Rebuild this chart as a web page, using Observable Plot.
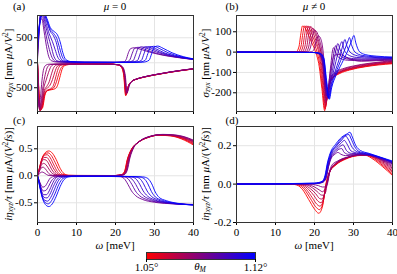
<!DOCTYPE html>
<html><head><meta charset="utf-8">
<script src="https://cdn.jsdelivr.net/npm/d3@7"></script>
<script src="https://cdn.jsdelivr.net/npm/@observablehq/plot@0.6"></script>
<style>
html,body{margin:0;padding:0;background:#fff;}
#root{position:relative;width:397px;height:274px;overflow:hidden;}
#root svg{position:absolute;overflow:visible;}
#root svg, #root svg text, #root svg tspan{font-family:"Liberation Serif",serif !important;}
</style></head><body><div id="root"></div>
<script>
// ---- data ----
const thetas = [1.05, 1.055, 1.06, 1.065, 1.07, 1.075, 1.08, 1.085, 1.09, 1.095, 1.10, 1.105, 1.11, 1.115, 1.12];
const omegaTicks = [0, 10, 20, 30, 40];
const ticksA = [-500, 0, 500];
const ticksB = [-200, -100, 0, 100];
const ticksC = [-0.5, 0, 0.5];
const ticksD = [-0.2, 0, 0.2];
const cbarTicks = [1.05, 1.12];

// (a) sigma_zyx, mu = 0   — one curve per theta, points [omega (meV), value]
const sigmaMu0 = [
  [[0,0],[0.3,-450],[0.8,-930],[1.3,-900],[1.9,-650],[2.5,-560],[3.5,-540],[4.5,-520],[5.1,-460],[5.7,-300],[6.3,-130],[7,-55],[8,-35],[12,-22],[18,-25],[20.5,-40],[21.5,-90],[22.1,-250],[22.6,-660],[23.2,-480],[24,-380],[25,-340],[27,-295],[30,-245],[34,-190],[37,-155],[40,-125]],
  [[0,0],[0.28,-480],[0.75,-950],[1.25,-885],[1.85,-635],[2.5,-555],[3.45,-530],[4.3,-485],[4.9,-370],[5.5,-210],[6.15,-90],[7.2,-40],[12,-22],[18,-25],[20.55,-40],[21.55,-90],[22.15,-250],[22.65,-650],[23.25,-475],[24.05,-378],[25.05,-337],[27,-293],[30,-244],[34,-189],[37,-154],[40,-124]],
  [[0,0],[0.25,-500],[0.7,-960],[1.2,-870],[1.8,-620],[2.5,-550],[3.4,-520],[4.1,-450],[4.7,-280],[5.3,-120],[6,-50],[7.5,-30],[12,-22],[18,-25],[20.6,-40],[21.6,-90],[22.2,-250],[22.7,-640],[23.3,-470],[24.1,-375],[25.1,-335],[27,-292],[30,-243],[34,-188],[37,-153],[40,-123]],
  [[0,0],[0.22,-510],[0.65,-955],[1.15,-845],[1.75,-590],[2.45,-510],[3.2,-450],[3.85,-335],[4.45,-185],[5.1,-70],[6.5,-35],[12,-22],[18,-25],[20.65,-40],[21.65,-90],[22.25,-250],[22.75,-630],[23.35,-465],[24.15,-372],[25.15,-332],[27,-291],[30,-242],[34,-187],[37,-152],[40,-122]],
  [[0,0],[0.2,-520],[0.6,-950],[1.1,-820],[1.7,-560],[2.4,-470],[3,-380],[3.6,-220],[4.2,-90],[5,-40],[7,-27],[12,-22],[18,-25],[20.7,-40],[21.7,-90],[22.3,-250],[22.8,-620],[23.4,-460],[24.2,-370],[25.2,-330],[27,-290],[30,-241],[34,-186],[37,-151],[40,-121]],
  [[0,0],[0.2,-535],[0.55,-935],[1,-800],[1.55,-520],[2.2,-350],[2.8,-200],[3.5,-70],[4.3,-32],[6.5,-26],[12,-22],[18,-25],[20.75,-40],[21.75,-90],[22.35,-250],[22.85,-610],[23.45,-455],[24.25,-367],[25.25,-329],[27,-289],[30,-240],[34,-185],[37,-150],[40,-120]],
  [[0,0],[0.2,-550],[0.5,-920],[0.9,-780],[1.4,-480],[2,-230],[2.6,-80],[3.4,-35],[6,-25],[12,-22],[18,-25],[20.8,-40],[21.8,-90],[22.4,-250],[22.9,-600],[23.5,-450],[24.3,-365],[25.3,-328],[27,-288],[30,-239],[34,-184],[37,-149],[40,-119]],
  [[0,0],[0.15,-500],[0.4,-880],[0.75,-700],[1.15,-350],[1.6,-120],[2.2,-45],[3,-28],[6,-24],[12,-22],[18,-25],[20.9,-40],[21.9,-90],[22.5,-250],[23,-590],[23.6,-445],[24.4,-362],[25.4,-326],[27,-287],[30,-238],[34,-183],[37,-148],[40,-118]],
  [[0,60],[0.3,450],[0.7,850],[1.1,880],[1.7,620],[2.3,330],[2.9,120],[3.6,40],[5,15],[10,8],[20,8],[22,15],[22.7,60],[23.3,200],[23.9,285],[24.8,300],[26,280],[28,230],[31,170],[35,115],[40,65]],
  [[0,120],[0.3,500],[0.75,910],[1.2,930],[1.85,690],[2.55,420],[3.2,220],[3.9,80],[4.8,25],[8,12],[20,8],[22.5,12],[23.6,50],[24.3,190],[24.9,290],[25.8,310],[27,285],[29,225],[32,160],[36,110],[40,67]],
  [[0,180],[0.3,550],[0.8,960],[1.3,980],[2,760],[2.8,520],[3.5,330],[4.2,130],[5,40],[6.5,15],[12,8],[20,8],[23,12],[24.5,40],[25.2,170],[25.8,290],[26.7,320],[28,290],[30.5,215],[34,140],[40,70]],
  [[0,250],[0.35,620],[0.85,985],[1.4,995],[2.15,800],[3,580],[3.8,430],[4.5,270],[5.2,110],[6,40],[7.5,15],[12,9],[20,8],[24,12],[25.6,42],[26.3,175],[26.9,295],[27.8,322],[29.2,288],[31.5,208],[35,132],[40,71]],
  [[0,320],[0.4,700],[0.9,1000],[1.5,1010],[2.3,840],[3.2,640],[4.1,540],[4.8,410],[5.5,190],[6.2,60],[7.5,20],[12,10],[20,8],[25,12],[26.6,45],[27.3,180],[27.9,300],[28.8,325],[30.2,285],[32.5,200],[36,125],[40,72]],
  [[0,400],[0.45,715],[0.95,960],[1.6,1005],[2.35,865],[3.25,670],[4.15,585],[4.95,485],[5.65,300],[6.35,120],[7.2,40],[9,18],[12,10],[20,8],[26,12],[27.6,48],[28.3,185],[28.9,305],[29.8,330],[31.2,288],[33.5,200],[36.8,122],[40,75]],
  [[0,480],[0.5,730],[1,920],[1.7,1000],[2.4,890],[3.3,700],[4.2,630],[5.1,560],[5.8,420],[6.5,200],[7.2,70],[8.5,25],[12,10],[20,8],[27,12],[28.6,50],[29.3,190],[29.9,310],[30.8,335],[32.2,290],[34.5,200],[37.5,120],[40,78]]
];

// (b) sigma_zyx, mu != 0
const sigmaMuN = [
  [[0,0],[14,0],[15.3,2],[16,25],[16.5,90],[16.9,128],[17.4,124],[18.2,95],[19.2,50],[20.2,5],[21.2,-70],[21.9,-180],[22.6,-288],[23.1,-230],[23.7,-165],[24.6,-130],[26.5,-105],[29,-88],[33,-72],[36.5,-63],[40,-57]],
  [[0,0],[14.5,0],[15.8,2],[16.5,25],[17,90],[17.4,128],[17.9,124],[18.7,95],[19.65,50],[20.6,5],[21.5,-80],[22.1,-185],[22.7,-280],[23.2,-222],[23.8,-160],[24.7,-126],[26.6,-101],[29.1,-85],[33.1,-70],[36.6,-60],[40,-55]],
  [[0,0],[15,0],[16.3,2],[17,25],[17.5,90],[17.9,128],[18.4,124],[19.2,95],[20.1,50],[21,5],[21.8,-90],[22.3,-190],[22.8,-270],[23.3,-215],[23.9,-155],[24.8,-122],[26.7,-98],[29.2,-82],[33.2,-67],[36.7,-58],[40,-52]],
  [[0,0],[15.5,0],[16.8,2],[17.5,25],[18,90],[18.4,127],[18.9,122],[19.7,92],[20.55,45],[21.4,-8],[22.1,-110],[22.6,-220],[22.85,-262],[23.35,-210],[23.95,-150],[24.9,-118],[26.85,-95],[29.35,-80],[33.35,-65],[36.85,-56],[40,-50]],
  [[0,0],[16,0],[17.3,2],[18,25],[18.5,90],[18.9,125],[19.4,120],[20.2,88],[21,40],[21.8,-20],[22.4,-130],[22.9,-250],[23.4,-205],[24,-145],[25,-115],[27,-92],[29.5,-77],[33.5,-62],[37,-53],[40,-47]],
  [[0,0],[16.5,0],[17.8,2],[18.5,25],[19,85],[19.45,116],[19.95,111],[20.7,76],[21.45,22],[22.15,-60],[22.7,-180],[22.95,-243],[23.45,-200],[24.05,-138],[25.1,-108],[27.1,-87],[29.75,-72],[33.75,-58],[37.25,-50],[40,-45]],
  [[0,0],[17,0],[18.3,2],[19,25],[19.5,80],[20,108],[20.5,102],[21.2,65],[21.9,5],[22.5,-110],[23,-235],[23.5,-195],[24.1,-130],[25.2,-100],[27.2,-82],[30,-68],[34,-55],[37.5,-47],[40,-42]],
  [[0,0],[18,0],[19.3,2],[20,20],[20.5,60],[21,80],[21.5,70],[22.1,20],[22.6,-80],[23.05,-215],[23.4,-200],[23.9,-120],[24.5,-50],[25.2,-15],[26.5,-12],[28.5,-30],[32,-45],[36,-42],[40,-40]],
  [[0,0],[20,-2],[21.2,-10],[22.1,-60],[22.7,-170],[23.2,-215],[23.7,-150],[24.2,-60],[24.6,5],[24.9,22],[25.3,5],[26.3,-28],[28.5,-40],[32,-42],[36,-40],[40,-38]],
  [[0,0],[20,-2],[21.25,-10],[22.15,-52],[22.8,-165],[23.3,-218],[23.85,-150],[24.5,-65],[25.05,8],[25.45,32],[25.9,10],[27,-24],[29.3,-36],[33,-38],[40,-35]],
  [[0,0],[20,-2],[21.3,-10],[22.2,-45],[22.9,-160],[23.4,-222],[24,-150],[24.8,-70],[25.5,10],[26,42],[26.5,15],[27.6,-20],[30,-32],[34,-34],[40,-33]],
  [[0,0],[20,-2],[21.35,-9],[22.25,-40],[22.95,-155],[23.5,-224],[24.1,-158],[25,-85],[25.95,-10],[26.65,38],[27.05,52],[27.45,22],[28.5,-12],[30.7,-26],[35,-30],[40,-31]],
  [[0,0],[20,-2],[21.4,-8],[22.3,-35],[23,-150],[23.6,-226],[24.2,-165],[25.2,-100],[26.4,-30],[27.3,35],[27.8,62],[28.3,30],[29.4,-5],[31.5,-20],[35,-26],[40,-29]],
  [[0,0],[20,-2],[21.45,-7],[22.35,-32],[23.05,-145],[23.7,-229],[24.3,-170],[25.35,-108],[26.7,-42],[27.9,20],[28.65,58],[28.95,72],[29.45,38],[30.4,0],[32.2,-16],[35.5,-23],[40,-27]],
  [[0,0],[20,-2],[21.5,-6],[22.4,-30],[23.1,-140],[23.8,-232],[24.4,-175],[25.5,-115],[27,-55],[28.5,5],[29.5,55],[30.1,82],[30.6,45],[31.5,3],[33,-12],[36,-20],[40,-24]]
];

// (c) i eta_xyz / tau, mu = 0
const etaMu0 = [
  [[0,0],[0.5,0.15],[1.2,0.33],[2,0.43],[2.9,0.46],[3.8,0.42],[4.8,0.3],[5.8,0.14],[6.8,0.04],[8,0.01],[15,0],[20,0.005],[21.5,0.02],[22.3,0.08],[23,0.3],[24,0.48],[25.5,0.6],[28,0.7],[31,0.75],[34,0.74],[37,0.68],[40,0.57]],
  [[0,0],[0.5,0.14],[1.15,0.315],[1.9,0.405],[2.7,0.425],[3.55,0.375],[4.5,0.25],[5.45,0.11],[6.4,0.03],[8,0.008],[20,0.005],[21.6,0.02],[22.4,0.09],[23.1,0.31],[24.1,0.49],[25.65,0.61],[28.15,0.705],[31.15,0.752],[34.15,0.742],[37,0.69],[40,0.585]],
  [[0,0],[0.5,0.13],[1.1,0.3],[1.8,0.38],[2.5,0.39],[3.3,0.33],[4.2,0.2],[5.1,0.08],[6,0.02],[8,0.005],[20,0.005],[21.7,0.02],[22.5,0.1],[23.2,0.32],[24.2,0.5],[25.8,0.62],[28.3,0.71],[31.3,0.755],[34.3,0.745],[37,0.7],[40,0.6]],
  [[0,0],[0.5,0.12],[1.05,0.27],[1.7,0.34],[2.35,0.34],[3.1,0.275],[3.95,0.155],[4.8,0.06],[5.75,0.015],[8,0.004],[20,0.005],[21.8,0.02],[22.6,0.1],[23.3,0.325],[24.3,0.505],[25.9,0.625],[28.45,0.715],[31.45,0.757],[34.45,0.747],[37.1,0.705],[40,0.615]],
  [[0,0],[0.5,0.11],[1,0.24],[1.6,0.3],[2.2,0.29],[2.9,0.22],[3.7,0.11],[4.5,0.04],[5.5,0.01],[8,0.003],[20,0.005],[21.9,0.02],[22.7,0.1],[23.4,0.33],[24.4,0.51],[26,0.63],[28.6,0.72],[31.6,0.76],[34.6,0.75],[37.2,0.71],[40,0.63]],
  [[0,0],[0.45,0.09],[0.95,0.19],[1.5,0.23],[2.1,0.21],[2.75,0.145],[3.5,0.065],[4.5,0.02],[6,0.005],[20,0.005],[22,0.02],[22.8,0.1],[23.5,0.33],[24.5,0.515],[26.1,0.635],[28.75,0.725],[31.8,0.762],[34.8,0.752],[37.35,0.715],[40,0.64]],
  [[0,0],[0.4,0.07],[0.9,0.14],[1.4,0.16],[2,0.13],[2.6,0.07],[3.3,0.02],[4.5,0.005],[8,0.002],[20,0.005],[22.1,0.02],[22.9,0.1],[23.6,0.33],[24.6,0.52],[26.2,0.64],[28.9,0.73],[32,0.765],[35,0.755],[37.5,0.72],[40,0.65]],
  [[0,0],[0.4,0.03],[0.8,0.06],[1.2,0.07],[1.7,0.055],[2.3,0.025],[3,0.005],[6,0.001],[20,0.005],[22.2,0.02],[23,0.1],[23.7,0.33],[24.7,0.525],[26.3,0.645],[29,0.735],[32.2,0.767],[35.2,0.757],[37.6,0.725],[40,0.66]],
  [[0,0],[0.4,-0.08],[0.9,-0.17],[1.4,-0.21],[2,-0.19],[2.6,-0.12],[3.3,-0.04],[4.5,-0.01],[10,-0.005],[21,-0.01],[22.2,-0.05],[23.2,-0.16],[24.1,-0.28],[25.2,-0.37],[27,-0.44],[30,-0.49],[35,-0.52],[40,-0.53]],
  [[0,0],[0.45,-0.1],[0.95,-0.22],[1.5,-0.28],[2.15,-0.27],[2.8,-0.2],[3.55,-0.095],[4.5,-0.03],[6,-0.005],[10,-0.005],[22,-0.015],[23.2,-0.055],[24.2,-0.16],[25.1,-0.28],[26.2,-0.37],[28,-0.44],[31,-0.49],[35,-0.52],[40,-0.532]],
  [[0,0],[0.5,-0.12],[1,-0.27],[1.6,-0.35],[2.3,-0.35],[3,-0.28],[3.8,-0.15],[4.6,-0.05],[5.6,-0.01],[10,-0.005],[23,-0.02],[24.2,-0.06],[25.2,-0.16],[26.1,-0.28],[27.2,-0.37],[29,-0.44],[32,-0.49],[40,-0.535]],
  [[0,0],[0.5,-0.135],[1.05,-0.31],[1.7,-0.4],[2.45,-0.41],[3.2,-0.34],[4.05,-0.2],[4.9,-0.08],[5.9,-0.02],[8,-0.008],[20,-0.01],[24,-0.02],[25.2,-0.055],[26.2,-0.155],[27.1,-0.28],[28.2,-0.375],[30,-0.445],[33,-0.495],[40,-0.538]],
  [[0,0],[0.5,-0.15],[1.1,-0.35],[1.8,-0.45],[2.6,-0.47],[3.4,-0.4],[4.3,-0.26],[5.2,-0.11],[6.2,-0.03],[8,-0.01],[20,-0.01],[25,-0.02],[26.2,-0.05],[27.2,-0.15],[28.1,-0.28],[29.2,-0.38],[31,-0.45],[34,-0.5],[40,-0.54]],
  [[0,0],[0.5,-0.165],[1.15,-0.375],[1.9,-0.49],[2.75,-0.52],[3.6,-0.46],[4.55,-0.32],[5.5,-0.155],[6.5,-0.05],[8,-0.015],[20,-0.01],[26,-0.02],[27.3,-0.05],[28.3,-0.15],[29.2,-0.29],[30.2,-0.39],[32,-0.455],[35,-0.505],[40,-0.54]],
  [[0,0],[0.5,-0.18],[1.2,-0.4],[2,-0.53],[2.9,-0.57],[3.8,-0.52],[4.8,-0.38],[5.8,-0.2],[6.8,-0.07],[8,-0.02],[10,-0.005],[20,-0.01],[27,-0.02],[28.3,-0.05],[29.3,-0.15],[30.2,-0.3],[31.2,-0.4],[33,-0.46],[36,-0.51],[40,-0.54]]
];

// (d) i eta_xyz / tau, mu != 0
const etaMuN = [
  [[0,0],[14,0],[15.5,-0.005],[17,-0.03],[18.5,-0.08],[20,-0.13],[21.1,-0.152],[22,-0.12],[22.9,0],[23.8,0.06],[25.5,0.1],[28,0.13],[31,0.148],[33,0.15],[35,0.13],[37.5,0.09],[40,0.045]],
  [[0,0],[14.5,0],[16,-0.005],[17.5,-0.03],[18.95,-0.075],[20.3,-0.118],[21.25,-0.133],[22.1,-0.105],[22.95,-0.003],[23.85,0.062],[25.55,0.102],[28.1,0.133],[31.1,0.149],[33.1,0.151],[35.15,0.134],[37.6,0.095],[40,0.052]],
  [[0,0],[15,0],[16.5,-0.005],[18,-0.03],[19.4,-0.07],[20.6,-0.105],[21.4,-0.115],[22.2,-0.09],[23,-0.005],[23.9,0.065],[25.6,0.105],[28.2,0.135],[31.2,0.15],[33.2,0.152],[35.3,0.137],[37.7,0.1],[40,0.06]],
  [[0,0],[15.5,0],[17,-0.005],[18.5,-0.028],[19.85,-0.06],[20.95,-0.09],[21.65,-0.097],[22.35,-0.072],[23.05,-0.005],[23.95,0.067],[25.65,0.107],[28.3,0.137],[31.3,0.151],[33.3,0.152],[35.45,0.138],[37.85,0.104],[40,0.067]],
  [[0,0],[16,0],[17.5,-0.005],[19,-0.025],[20.3,-0.05],[21.3,-0.075],[21.9,-0.078],[22.5,-0.055],[23.1,-0.005],[24,0.07],[25.7,0.11],[28.4,0.138],[31.4,0.152],[33.4,0.153],[35.6,0.14],[38,0.108],[40,0.075]],
  [[0,0],[16.5,0],[18,-0.004],[19.5,-0.02],[20.75,-0.04],[21.75,-0.057],[22.3,-0.058],[22.9,-0.04],[23.2,-0.003],[24.05,0.072],[25.75,0.112],[28.5,0.139],[31.5,0.152],[33.5,0.153],[35.8,0.14],[38.1,0.112],[40,0.082]],
  [[0,0],[17,0],[18.5,-0.003],[20,-0.015],[21.2,-0.03],[22.1,-0.04],[22.7,-0.025],[23.3,0],[24.1,0.075],[25.8,0.115],[28.6,0.14],[31.6,0.153],[33.6,0.154],[36,0.14],[38.2,0.115],[40,0.09]],
  [[0,0],[18,0],[19.5,-0.002],[21,-0.008],[22,-0.015],[22.7,-0.015],[23.3,0.01],[23.9,0.07],[24.5,0.1],[25.9,0.12],[28.8,0.143],[31.8,0.154],[33.8,0.154],[36,0.14],[38.3,0.118],[40,0.097]],
  [[0,0],[20,0.002],[22,0.008],[23,0.03],[23.6,0.09],[24.3,0.135],[25.2,0.155],[26,0.165],[26.8,0.155],[28,0.148],[31,0.153],[34,0.15],[37,0.13],[40,0.105]],
  [[0,0],[20,0.002],[22,0.009],[22.95,0.032],[23.55,0.09],[24.25,0.138],[25.35,0.165],[26.3,0.182],[27,0.185],[27.6,0.165],[28.8,0.155],[31.5,0.155],[34.5,0.149],[37.5,0.13],[40,0.107]],
  [[0,0],[20,0.003],[22,0.01],[22.9,0.035],[23.5,0.09],[24.2,0.14],[25.5,0.175],[26.8,0.2],[27.3,0.205],[28.2,0.175],[29.5,0.16],[32,0.158],[35,0.148],[38,0.128],[40,0.11]],
  [[0,0],[20,0.003],[22,0.011],[22.85,0.037],[23.45,0.095],[24.15,0.145],[25.5,0.185],[26.9,0.215],[27.65,0.228],[28.3,0.21],[29.4,0.172],[30.8,0.163],[33,0.156],[36,0.143],[40,0.112]],
  [[0,0],[20,0.004],[22,0.012],[22.8,0.04],[23.4,0.1],[24.1,0.15],[25.5,0.195],[27,0.23],[28,0.25],[28.6,0.235],[29.7,0.19],[31,0.168],[34,0.155],[37,0.137],[40,0.115]],
  [[0,0],[20,0.004],[22,0.013],[22.75,0.042],[23.35,0.105],[24.05,0.155],[25.5,0.2],[27,0.238],[28.1,0.255],[28.85,0.258],[29.3,0.24],[30.3,0.195],[31.4,0.17],[34,0.157],[37,0.138],[40,0.117]],
  [[0,0],[20,0.005],[22,0.015],[22.7,0.045],[23.3,0.11],[24,0.16],[25.5,0.21],[27,0.245],[28.2,0.26],[29.1,0.27],[29.7,0.245],[30.6,0.2],[31.8,0.175],[34,0.16],[37,0.14],[40,0.12]]
];

// ---- rendering ----
const root = document.getElementById("root");
const colorScale = {type: "linear", domain: [1.05, 1.12], range: ["#ff0000", "#0000ff"], interpolate: d3.interpolateRgb};
const TICK_FS = 11, LAB_FS = 11, SUB_FS = 7.5;

function rows(curves) {
  return curves.flatMap((c, i) => c.map(([w, v]) => ({theta: thetas[i], omega: w, value: v})));
}

function panel(o) {
  const svg = Plot.plot({
    width: o.width, height: o.height,
    marginLeft: o.mL, marginRight: o.mR, marginTop: o.mT, marginBottom: o.mB,
    style: `font-size:${TICK_FS}px;background:transparent;overflow:visible;color:#000;`,
    x: {domain: [0, 40]},
    y: {domain: o.yDomain},
    color: colorScale,
    marks: [
      Plot.gridX(omegaTicks, {stroke: "#e4e4e4", strokeOpacity: 1}),
      Plot.gridY(o.yTicks, {stroke: "#e4e4e4", strokeOpacity: 1}),
      Plot.line(rows(o.curves), {x: "omega", y: "value", z: "theta", stroke: "theta", curve: "monotone-x", strokeWidth: 0.9, clip: true}),
      Plot.axisX(omegaTicks, {tickSize: 3, tickPadding: 3, tickFormat: o.showX ? (d => String(d)) : (() => ""), label: null}),
      Plot.axisY(o.yTicks, {tickSize: 3, tickPadding: 2, tickFormat: o.yFmt, label: null}),
      Plot.frame({stroke: "#333"})
    ]
  });
  svg.style.left = o.left + "px";
  svg.style.top = o.top + "px";
  root.appendChild(svg);
  const s = d3.select(svg);
  const fy = o.mT + (o.height - o.mT - o.mB) / 2;
  const fx = o.mL + (o.width - o.mL - o.mR) / 2;
  const t = s.append("text")
    .attr("transform", `translate(${o.yLabelX},${fy}) rotate(-90)`)
    .attr("text-anchor", "middle").attr("dominant-baseline", "central")
    .attr("font-size", LAB_FS).attr("fill", "#000");
  o.yLabel(t);
  s.append("text").attr("x", o.tagX).attr("y", o.tagY).attr("font-size", LAB_FS).text(o.tag);
  if (o.title) s.append("text").attr("x", fx).attr("y", 10).attr("text-anchor", "middle").attr("font-size", LAB_FS)
      .call(tt => { tt.append("tspan").attr("font-style", "italic").text("μ"); tt.append("tspan").text(o.title); });
  if (o.showX) {
    const xl = s.append("text").attr("x", fx).attr("y", o.height - o.mB + 27).attr("text-anchor", "middle").attr("font-size", LAB_FS);
    xl.append("tspan").attr("font-style", "italic").text("ω");
    xl.append("tspan").text(" [meV]");
  }
}

function sigmaLabel(t) {
  t.append("tspan").attr("font-style", "italic").text("σ");
  t.append("tspan").attr("font-style", "italic").attr("font-size", SUB_FS).attr("dy", 2).text("zyx");
  t.append("tspan").attr("dy", -2).text(" [nm ");
  t.append("tspan").attr("font-style", "italic").text("μ");
  t.append("tspan").text("A/");
  t.append("tspan").attr("font-style", "italic").text("V");
  t.append("tspan").attr("font-size", SUB_FS).attr("dy", -3).text("2");
  t.append("tspan").attr("dy", 3).text("]");
}
function etaLabel(t) {
  t.append("tspan").attr("font-style", "italic").text("iη");
  t.append("tspan").attr("font-style", "italic").attr("font-size", SUB_FS).attr("dy", 2).text("xyz");
  t.append("tspan").attr("dy", -2).attr("font-style", "italic").text("/τ");
  t.append("tspan").text(" [nm ");
  t.append("tspan").attr("font-style", "italic").text("μ");
  t.append("tspan").text("A/(");
  t.append("tspan").attr("font-style", "italic").text("V");
  t.append("tspan").attr("font-size", SUB_FS).attr("dy", -3).text("2");
  t.append("tspan").attr("dy", 3).attr("font-style", "italic").text("fs");
  t.append("tspan").text(")]");
}

panel({curves: sigmaMu0, yDomain: [-975, 946], yTicks: ticksA, yFmt: d => String(d),
  left: 0, top: 0, width: 197, height: 125, mL: 37, mR: 4, mT: 15, mB: 14,
  showX: false, yLabel: sigmaLabel, yLabelX: 8, tag: "(a)", tagX: 19, tagY: 10, title: " = 0"});
panel({curves: sigmaMuN, yDomain: [-292, 180], yTicks: ticksB, yFmt: d => String(d),
  left: 197, top: 0, width: 200, height: 125, mL: 39, mR: 5, mT: 15, mB: 14,
  showX: false, yLabel: sigmaLabel, yLabelX: 8, tag: "(b)", tagX: 35, tagY: 10, title: " ≠ 0"});
panel({curves: etaMu0, yDomain: [-0.865, 0.913], yTicks: ticksC, yFmt: d => d.toFixed(1),
  left: 0, top: 115, width: 197, height: 125, mL: 37, mR: 4, mT: 11, mB: 18,
  showX: true, yLabel: etaLabel, yLabelX: 8, tag: "(c)", tagX: 19, tagY: 9});
panel({curves: etaMuN, yDomain: [-0.2, 0.3], yTicks: ticksD, yFmt: d => d.toFixed(1),
  left: 197, top: 115, width: 200, height: 125, mL: 39, mR: 5, mT: 11, mB: 18,
  showX: true, yLabel: etaLabel, yLabelX: 8, tag: "(d)", tagX: 35, tagY: 9});

// colorbar
const cbar = Plot.plot({
  width: 397, height: 28, marginLeft: 146, marginRight: 142, marginTop: 7, marginBottom: 14,
  style: `font-size:${TICK_FS}px;background:transparent;overflow:visible;color:#000;`,
  x: {domain: [1.05, 1.12]},
  y: {domain: [0, 1], axis: null},
  marks: [
    Plot.rect([{a: cbarTicks[0], b: cbarTicks[1]}], {x1: "a", x2: "b", y1: 0, y2: 1, fill: "url(#cbgrad)"}),
    Plot.frame({stroke: "#333"}),
    Plot.axisX(cbarTicks, {tickSize: 3, tickPadding: 1, tickFormat: d => d.toFixed(2) + "°", label: null})
  ]
});
cbar.style.left = "0px";
cbar.style.top = "245px";
root.appendChild(cbar);
const cs = d3.select(cbar);
const grad = cs.insert("defs", ":first-child").append("linearGradient").attr("id", "cbgrad").attr("x1", "0%").attr("x2", "100%");
grad.append("stop").attr("offset", "0%").attr("stop-color", "#ff0000");
grad.append("stop").attr("offset", "100%").attr("stop-color", "#0000ff");
const th = cs.append("text").attr("x", 200).attr("y", 25).attr("text-anchor", "middle").attr("font-size", LAB_FS);
th.append("tspan").attr("font-style", "italic").text("θ");
th.append("tspan").attr("font-style", "italic").attr("font-size", SUB_FS).attr("dy", 2).text("M");
</script></body></html>
